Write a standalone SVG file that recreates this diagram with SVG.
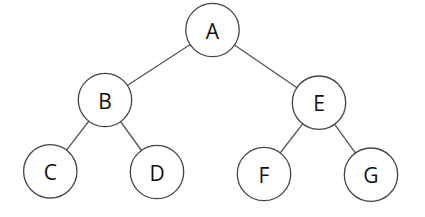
<svg xmlns="http://www.w3.org/2000/svg" width="425" height="217" viewBox="0 0 425 217">
<style>
.n circle{fill:#fff;stroke:#444;stroke-width:1.3}
.n text{font-family:"Open Sans","Noto Sans",sans-serif;font-size:21px;fill:#111;text-anchor:middle}
#edges line{stroke:#555;stroke-width:1.3}
</style>
<rect width="425" height="217" fill="#fff"/>
<g id="edges">
<line x1="212.5" y1="30" x2="105" y2="100"/>
<line x1="212.5" y1="30" x2="319" y2="102.7"/>
<line x1="105" y1="100" x2="50.3" y2="171.3"/>
<line x1="105" y1="100" x2="157" y2="172"/>
<line x1="319" y1="102.7" x2="264" y2="174"/>
<line x1="319" y1="102.7" x2="371" y2="174.7"/>
</g>
<g id="A" class="n"><circle cx="212.5" cy="30" r="26.7"/><text x="212.5" y="38.5">A</text></g>
<g id="B" class="n"><circle cx="105" cy="100" r="26.7"/><text x="105" y="108.5">B</text></g>
<g id="E" class="n"><circle cx="319" cy="102.7" r="26.7"/><text x="319" y="111.2">E</text></g>
<g id="C" class="n"><circle cx="50.3" cy="171.3" r="26.7"/><text x="50.3" y="179.8">C</text></g>
<g id="D" class="n"><circle cx="157" cy="172" r="26.7"/><text x="157" y="180.5">D</text></g>
<g id="F" class="n"><circle cx="264" cy="174" r="26.7"/><text x="264" y="182.5">F</text></g>
<g id="G" class="n"><circle cx="371" cy="174.7" r="26.7"/><text x="371" y="183.2">G</text></g>
</svg>
